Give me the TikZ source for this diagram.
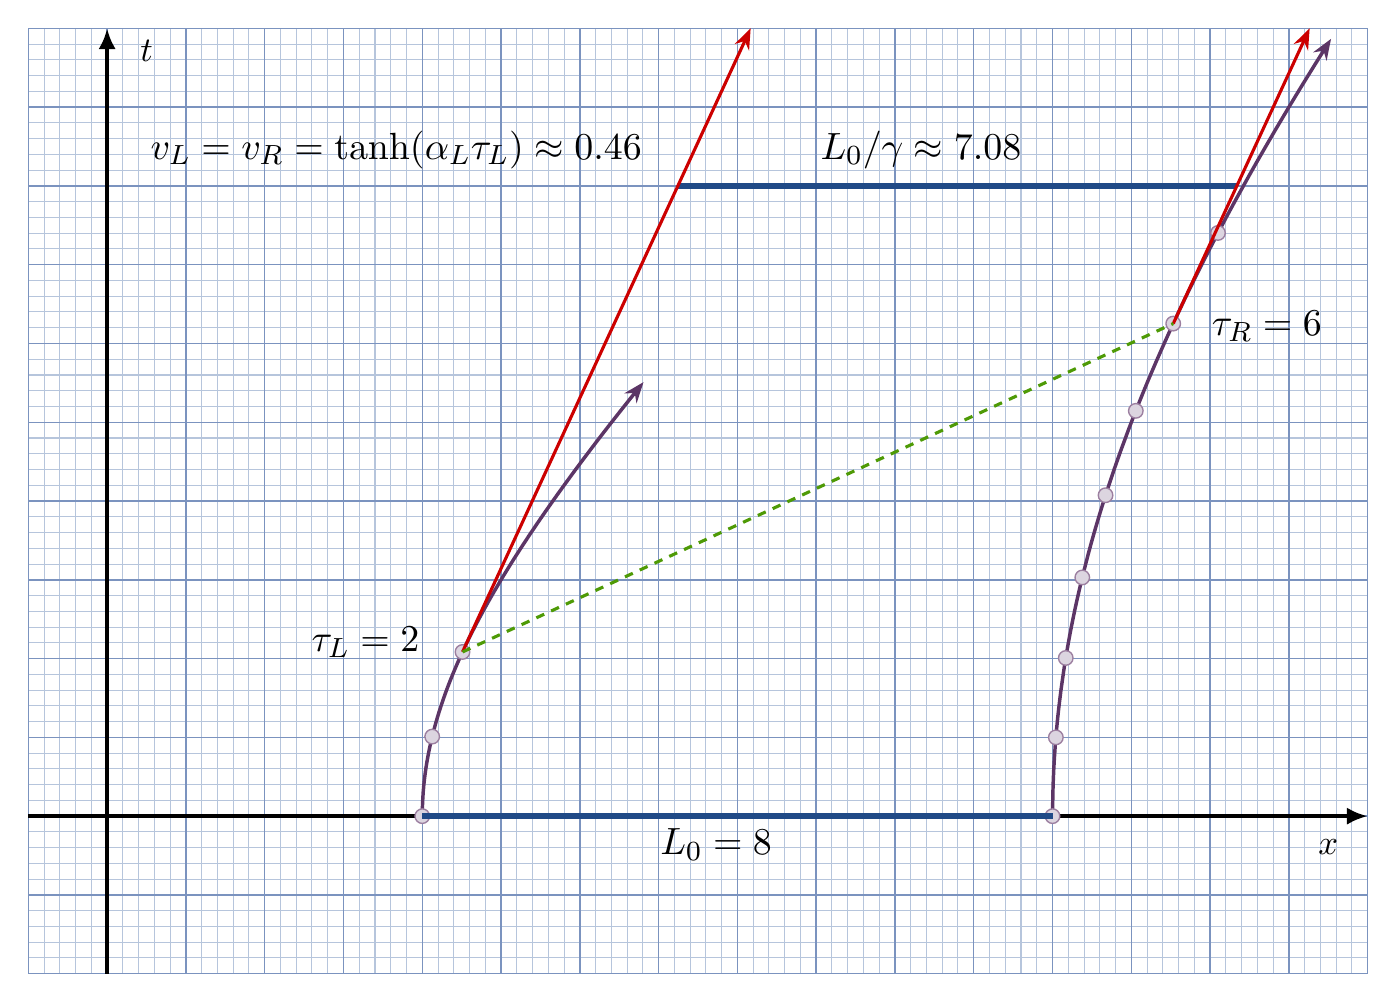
\documentclass[tikz,border=0pt]{standalone}
\usepackage{mathtools}
\usepackage{tikz}
\definecolor{plum}{HTML}{5C3566}
\definecolor{scarlet}{HTML}{CC0000}
\definecolor{skydark}{HTML}{204A87}
\definecolor{cham}{HTML}{4E9A06}
\definecolor{dotfill}{HTML}{DCD5E0}
\definecolor{dotline}{HTML}{9C7FA0}
\definecolor{gridmaj}{HTML}{7B93BF}
\definecolor{gridmin}{HTML}{B6C5DC}
\usetikzlibrary{arrows.meta, positioning}

\begin{document}
\begin{tikzpicture}
[scale=0.8,
 ship/.style={circle, fill=dotfill, draw=dotline, thin, inner sep=0pt, minimum size=4.2pt},
 world/.style={plum, line width=1pt, arrows={-Stealth[length=6pt, width=4.5pt]}},
 tang/.style={scarlet, line width=0.9pt, arrows={-Stealth[length=6pt, width=4.5pt]}},
 len/.style={skydark, line width=1.6pt},
 simul/.style={cham, line width=0.9pt, dash pattern=on 2.5pt off 2.2pt},
 axis/.style={black, line width=1.2pt, arrows={-Latex[length=6pt, width=5pt]}},
 lbl/.style={font=\fontsize{11}{13.5}\selectfont}]
\useasboundingbox (-1.36,-2.36) rectangle (16.36,10.36);
\draw[gridmin, line width=0.3pt] (-1,-2) grid[step=0.2] (16,10);
\draw[gridmaj, line width=0.4pt] (-1,-2) grid (16,10);
\coordinate (xa) at (-1,0); \coordinate (xb) at (16,0);
\coordinate (ta) at (0,-2); \coordinate (tb) at (0,10);
\draw[axis] (xa) -- (xb);
\draw[axis] (ta) -- (tb);
\node (tl) at (0.5,9.71) {$t$};
\node (xl) at (15.5,-0.39) {$x$};
% worldlines
\draw[world] plot[domain=0:4.5, samples=60, variable=\s] ({4*cosh(\s/4)}, {4*sinh(\s/4)});
\draw[world] plot[domain=0:9, samples=80, variable=\s] ({12*cosh(\s/12)}, {12*sinh(\s/12)});
\node[ship] (l0) at (4,0) {}; \node[ship] (l1) at ({4*cosh(0.25)}, {4*sinh(0.25)}) {};
\node[ship] (l2) at ({4*cosh(0.5)}, {4*sinh(0.5)}) {};
\node[ship] (r0) at (12,0) {}; \node[ship] (r1) at ({12*cosh(1/12)}, {12*sinh(1/12)}) {};
\node[ship] (r2) at ({12*cosh(2/12)}, {12*sinh(2/12)}) {};
\node[ship] (r3) at ({12*cosh(3/12)}, {12*sinh(3/12)}) {};
\node[ship] (r4) at ({12*cosh(4/12)}, {12*sinh(4/12)}) {};
\node[ship] (r5) at ({12*cosh(5/12)}, {12*sinh(5/12)}) {};
\node[ship] (r6) at ({12*cosh(6/12)}, {12*sinh(6/12)}) {};
\node[ship] (r7) at ({12*cosh(7/12)}, {12*sinh(7/12)}) {};
% lengths
\coordinate (ba) at (7.244,8); \coordinate (bb) at (14.339,8);
\draw[len] (l0.center) -- (r0.center);
\draw[len] (ba) -- (bb);
\coordinate (lt) at (8.168,10); \coordinate (rt) at (15.263,10);
\draw[tang] (l2.center) -- (lt);
\draw[tang] (r6.center) -- (rt);
\draw[simul] (l2.center) -- (r6.center);
\node[lbl] (vel) at (3.67,8.46) {$v_L = v_R = \tanh(\alpha_L\tau_L) \approx 0.46$};
\node[lbl] (lg) at (10.33,8.46) {$L_0/\gamma \approx 7.08$};
\node[lbl] (tauL) at (3.28,2.21) {$\tau_L = 2$};
\node[lbl] (tauR) at (14.72,6.22) {$\tau_R = 6$};
\node[lbl] (L0) at (7.73,-0.36) {$L_0 = 8$};

\end{tikzpicture}
\end{document}
